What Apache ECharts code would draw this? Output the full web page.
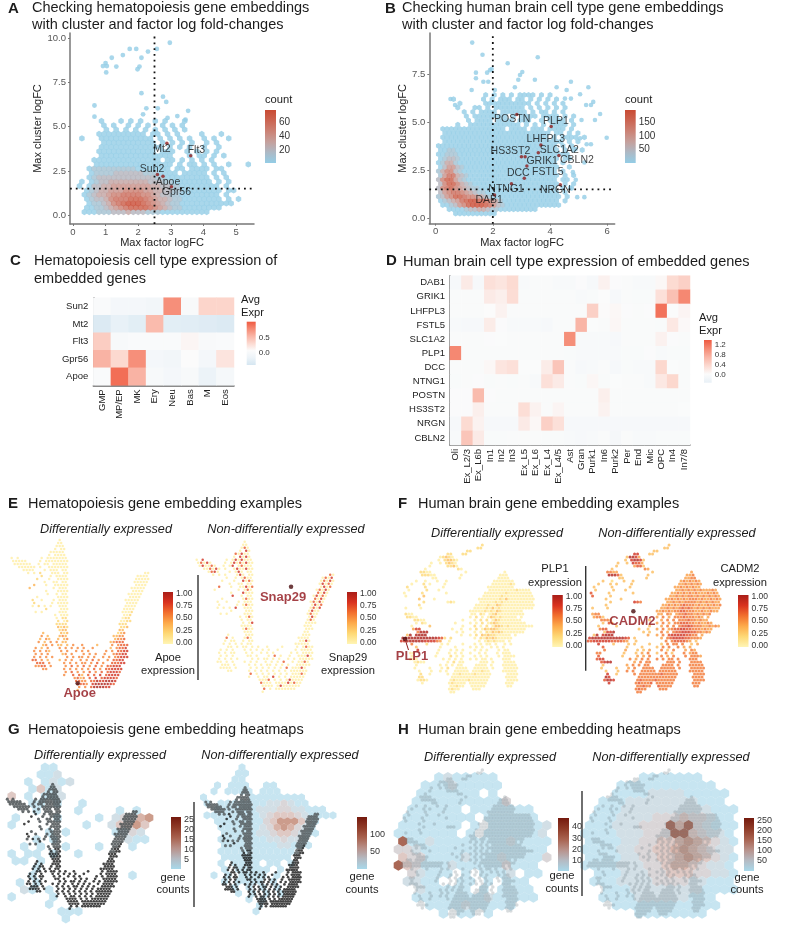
<!DOCTYPE html>
<html><head><meta charset="utf-8">
<script src="https://cdn.jsdelivr.net/npm/echarts@6/dist/echarts.min.js"></script>
<style>html,body{margin:0;padding:0;background:#fff}#c{width:800px;height:942px;filter:blur(.4px)}</style>
</head><body><div id="c"></div>
<script>
// ---------- A: hexbin rows (one char per bin, . = empty, 1..9 = count level)
const hexA = [
".11122233343332221111111111",
".1122345678888765432211111111",
"..122346789998765432211111111111",
".1233467778887654432211111111.1.1",
".1234456677776654332211111111.1",
".1234455566665544332211111111.11",
"1.133445555555544332211111111.1",
"1.1233444444443332211111111.1.1",
"..1233333333333322111111111.1.1",
"..122223333332221111.11111.1.1",
"..12222222221111111.11.1111.11",
"...1111111111111111.1.11.1.1..1...1",
"...11111111111111.11.1.1.1.1",
"....111111111111111...1.11.1.1",
"....111111111111.111..1.1.1.1",
"....1111111111111.1.1.1..1..1",
".....11111111111.1.1.1.1..1.1",
"1...11111111111.1.1.1.1..1.1..1",
"....1111111111.11.1.1....1...1",
".....1.1.1.1.1.1.1.1.1",
".....1.1..1.1.1..1.1.1",
"....1...1.1.1..1.1...1"];
const sparseA = [[2.97,9.75],[1.74,9.4],[1.94,9.4],[2.3,9.25],[2.57,9.4],[1.53,9.05],[1.19,8.9],[2.1,8.9],[1,8.6],[.92,8.43],[1.04,8.43],[1.33,8.4],[2.04,8.4],[1.98,8.25],[1.02,8.07],[2.1,6.9],[2.76,6.7],[2.86,6.4],[.66,6.2],[2.25,6.04],[2.6,6.04],[3.53,5.9],[.66,5.57],[2.15,5.7],[3.2,5.6],[2.9,5.5],[3.45,5.4]];
const genesA = [["Mt2",2.88,4.06],["Flt3",3.61,3.36],["Sun2",2.59,2.3],["Apoe",2.76,2.2],["Gpr56",3.02,1.6]];
const offsA = [[-5,5.7],[5.7,-5.7],[-5.3,-5],[5,5.7],[5,5.7]];
const ticksAx=[0,1,2,3,4,5], ticksAy=[0,2.5,5,7.5,10];
// ---------- B
const hexB = [
"....1111111111",
"..111123344322111111111",
".1123568999875321111111111111",
"1234578998875421111111111111.1",
"23568876654321111111111111111.1",
"3567765432211111111111111111.1",
"3678654322111111111111111111.1.1",
"3688643211111111111111111111.1.1",
"3688532111111111111111111111.11",
"2577432111111111111111111111.1.1",
"2466321111111111111111111111.1",
"1355321111111111111111111111..1",
"1244211111111111111111111111.1",
"1233211111111111111111111111.11",
"1122211111111111111111111111111",
"1122111111111111111111111111.1.1.1",
"1111111111111111111111111111.1.1",
".1111111111111111111111111111.1.1",
".1111111111111111111111111.1.1111.1",
".1111111111111111111111111.11.1.1",
".111111111111111.1111.111.1111.1",
"....1..111111111111.1.1.1.1111.1",
".......1.1111.1111.111..1.1111.1",
"......1.11111111.1.1111.1111.1.1",
"......1.1.1111.111111.1.11.1.1",
"....1...11.1.1111111.1.1.1.1.1",
".....1.....11111111111.1.1.1.1",
"...1......1.1.111.11.1.1.1.1",
"...........1.1.1.1.1111.1.1"];
const sparseB = [[1.28,9.13],[1.64,8.5],[3.57,8.37],[2.52,8.06],[1.9,7.7],[1.41,7.57],[1.8,7.57],[1.96,7.76],[3.03,7.6],[2.95,7.45],[1.41,7.28],[4.73,7.1],[3.47,7.2],[1.67,7.1],[1.84,7.1],[2.89,7.2],[5.34,6.81],[4.58,6.67],[4.23,6.81],[2.77,6.81],[1.26,6.67],[2.07,6.67],[5.05,6.45],[5.51,6.05],[5.26,5.89],[5.43,5.89],[.52,6.2],[.68,5.89],[4.73,6.22],[4.52,6.22],[5.75,5.42],[5.57,5.11],[5.1,5.11],[5.98,4.19],[5.28,3.85],[5.43,3.85],[5.05,4.16],[4.9,3.6],[5.2,2.9],[4.8,2.4],[4.95,1.1],[5.2,1.1],[4.7,1.6],[4.9,2]];
const genesB = [["POSTN",2.84,5.4],["PLP1",4.04,4.77],["LHFPL3",3.68,3.81],["SLC1A2",3.59,3.41],["HS3ST2",3.0,3.2],["GRIK1",3.13,3.2],["CBLN2",4.31,3.26],["FSTL5",3.19,2.72],["DCC",3.1,2.08],["NTNG1",2.65,1.79],["NRGN",4.36,1.75],["DAB1",2.06,1.21]];
const offsB = [[-4.7,5],[4.7,-5],[5,-5.7],[21,-2.7],[-11,-5.7],[17,4],[18,5],[21,5.7],[-6,-4.7],[-5.3,5.3],[-5,5.3],[-5.3,5.3]];
const ticksBx=[0,2,4,6], ticksBy=[0,2.5,5,7.5];
// ---------- C
const catsC=["GMP","MP/EP","MK","Ery","Neu","Bas","M","Eos"];
const genesC=["Sun2","Mt2","Flt3","Gpr56","Apoe"];
const matC=[
[.02,-.05,-.05,-.09,.75,.01,.33,.33],
[-.35,-.22,-.28,.5,-.28,-.3,-.32,-.35],
[.38,0,.02,.03,.03,.1,.01,.03],
[.55,.3,.75,-.05,-.08,.06,-.05,.22],
[.03,.92,.55,-.01,-.05,-.01,-.18,-.03]];
// ---------- D
const catsD=["Oli","Ex_L2/3","Ex_L6b","In1","In2","In3","Ex_L5","Ex_L6","Ex_L4","Ex_L4/5","Ast","Gran","Purk1","In6","Purk2","Per","End","Mic","OPC","In4","In7/8"];
const genesD=["DAB1","GRIK1","LHFPL3","FSTL5","SLC1A2","PLP1","DCC","NTNG1","POSTN","HS3ST2","NRGN","CBLN2"];
const matD=[
[-.06,.2,-.06,.3,.25,.35,-.04,0,0,-.04,-.04,.01,-.05,.13,.01,0,-.03,-.03,.07,.35,.45],
[0,0,0,.2,.15,.33,0,0,0,0,0,-.03,-.01,.03,-.05,0,-.01,-.01,.3,.6,1.05],
[0,0,0,.03,.12,0,0,0,0,0,0,0,.45,.04,.07,.01,0,.01,1.2,.02,.1],
[-.04,-.05,-.05,.18,.01,-.03,-.03,-.03,-.06,0,0,.7,.02,0,.08,0,0,0,-.01,.22,.06],
[0,0,0,.01,.02,0,0,0,0,0,1,-.04,-.04,-.03,-.05,0,0,0,.13,.01,0],
[1.05,0,0,0,0,0,0,0,0,0,-.01,-.04,-.04,-.03,-.04,-.01,-.01,.01,-.03,-.01,-.01],
[0,0,0,.07,.25,.3,.02,.02,.18,.55,0,-.06,-.03,0,-.05,-.01,-.04,-.04,.38,.02,0],
[-.01,0,.01,-.01,0,-.01,0,-.03,.3,.2,0,-.01,.08,-.01,.02,0,0,-.03,.22,.38,0],
[.01,.01,.65,.01,0,0,0,0,0,0,0,0,0,.15,0,0,0,0,0,0,0],
[.01,.01,.15,0,0,0,.32,.12,0,.1,0,0,0,.12,0,0,0,0,0,0,.02],
[-.05,.35,.12,-.05,-.05,-.06,.2,.07,.45,.3,-.06,-.06,-.05,-.05,-.06,-.05,-.05,-.05,-.05,-.05,-.05],
[-.03,.55,.2,-.01,-.01,0,0,0,-.01,-.01,-.04,-.06,-.04,0,-.08,0,-.03,-.03,-.01,-.01,-.01]];
// ---------- E: hematopoiesis embedding, density rows "left|right", level 1..9 = expression
const apoeRows=[
"................1","...............11","...............111","..............1.11",".............11111","............1.1111",
"1.1.......1.1111111","11111....1.11111111",".111111..1.11.11111","..111111.1..1111111","....1111...1.111.11",
".....1.1.2...111.11|.....................11","..........2..1.1111|...................1111","........2...1..1111|..................11111",
"...........1..11.11|..................11111",".......3...1..11111|..................1111","......3.......1.111|.................11111",
"...........1...1111|.................1111","............1..1.11|................11111","........1......1111|................1111",
".......2..1...1.111|...............11111",".......2.....1.1111|...............1111",".......1.2.1.1..111|...............1111",
"...........2....111|..............1111","........1.1.....111|..............1112","..............1.111|..............112",
"...............1.22|..............122","...............2.12|.............1122","...............2222|.............222",
"...............3232|.............223","................233|.............33","..........3.....323|............234",
"..........4.3...343|...........3344",".........3.43..3.34|...........3445",".........4.3.4.4.33|..........34555",
"..........34.4.33.3.4..|4....3....4.4555","........4.3.4...4.4.4.4|.4..4.....3.4556",".......4.4.43...4.4..4.|4.4.....4.4.5566",
"........4.4.4....34.4..|.4.4.4..4..45566",".......4.4.4.4....4.4.4|4.4.4..4.4.45666",".......55.4.3...3.4.4..|4.4.5.4..4.5566",
"........555.4....4.4.4.|44.4.5.4..55566","........4455.4....4.5.4|.5.4.5.4.55666","..........44.....4.4.4.|4.4.5.4.556666",
"..................4.5.4|.4.5.4.5.56665",".................4..5.5|3.5.5.6.56666",".....................45|34.5.6.566665",
".....................55|44.557667776","......................5|554.67777765","......................4|.4.5777766","......................3"];
const snapRows=[
"................1","...............11","...............151","..............1.61",".............51611","............1.6161",
"1.6.......1.1616111","15161....1.16151611",".161151..1.16.15111","..115161.1..1611611","....1561...1.161.11",
".....1.1.1...161.11|.....................51","..........1..1.1511|...................1516","........1...1..6151|..................15161",
"...........1..11.11|..................16151",".......5...1..11615|..................1615","......1.......1.151|.................15161",
"...........1...6111|.................5161","............6..1.11|................16151","........1......1511|................5161",
".......1..1...1.111|...............15161",".......1.....1.1511|...............1615",".......1.1.1.6..111|...............1516",
"...........1....111|..............1611","........1.1.....111|..............1511","..............1.151|..............161",
"...............1.11|..............151","...............1.16|.............1111","...............1111|.............111",
"...............1511|.............111","................111|.............11","..........1.....111|............111",
"..........5.1...151|...........1111",".........1.11..1.11|...........1161",".........1.1.1.1.11|..........11111",
"..........11.1.11.1.1..|1....1....1.1511","........1.1.1...1.1.1.1|.1..1.....1.1111",".......1.1.11...1.1..1.|1.1.....1.1.1111",
"........1.1.1....11.1..|.1.5.1..1..11161",".......1.1.1.1....1.1.1|1.1.1..1.1.11111",".......11.1.1...1.1.1..|1.1.1.5..1.1151",
"........111.1....1.1.1.|11.1.1.1..11111","........1111.1....1.1.1|.1.1.1.5.11161","..........11.....1.1.1.|1.1.1.1.111111",
"..................5.1.1|.1.1.1.1.11151",".................1..1.1|1.6.1.1.11111",".....................11|15.1.1.161111",
".....................51|11.111161511","......................1|111.16111111","......................5|.1.1111111","......................1"];
const geneApoe=[["Apoe",233,595]], geneSnap=[["Snap29",318,300]];
// ---------- F / H: human brain embedding rows
const cadm2Rows=[
"|....3","|..33","......................3|3","...............77...33",".............38874","............3.78873","..........3..3.7664",".........3.....4663",
"........3..........54","......5544...........3|...........4",".......88863........3.|..........445","..........33.......3..|.........4455",
".....3..2...3..3....|........4545454","...3...3.3....3.....|.......44545454","..3.....3.....3.....|......445454544",
"..3.....3...3.......|......44545454544454",".6.....3.......3....|.....4454545454445454",".6.....3............|....44545455454545454",
"......3....3........|...4454545455545445454",".......3.......765..|...445454555545454544","......3.............|..44545456555454454545",
".3....3.............|.44545456565454545444","....................|445454556655544544544",".455................|44.54.455655454545",
"..4553..............|4.5.4.5556555454.4","....5553............3|.4.5.5.5556554544",".....3.64.........3..|4.5.4.5566655454454",
"...3.....3..........3|.4.5.5.56676555445454","....566..........3..3|4.5.456677665554544",".....3778.........3.3|.5.4.5667776655454",
"..38.7888...........4|4.5.6777776655.4","78888888888876.3.....|.4.567777665554","66777777666654..3....|...5.5666654.3",
"...7....3....3.3....3|.3.5.55.5..3.4",".....6.......3....3..|3.5.5..5.4.4",".....5......4...3.3.4|.5.3.5...4.54",
"...55.......3...3.4.5|3..5.3...5.455","...6.......3....4.4.5|.5.4.5...5.5554","...677........5.4.5.5|5.5.55.5...555",
"....6788.......4.5.55|...555.5...5555",".....3.......4.5.5.55|..5555.5...55555","....3....3...4.5..5555|.55555.5...55555",
"......3...3..5.5..55555|.555555....55555","......7..3.....5.555555|5655555.....5555","......87.........555555|5555555.....5555",
".....6887.......5655556|555555......5555",".......7........565556.|555555......555","................55655..|65555.......55",
"................5655...|.555","................55"];
const plp1Rows=[
"|....2","|..22","......................2|2","...............22...22",".............12321","............1.23321","..........1..1.2321",".........1.....2231",
"........1..........21","......2211...........1|...........1",".......22211........1.|..........111","..........11.......1..|.........1111",
".....1..1...1..1....|........1111111","...1...2.1....1.....|.......11111121","..2.....2.....1.....|......111111111",
"..1.....2...1.......|......11111111121111",".1.....2.......1....|.....1111111211111111",".1.....3............|....11111121111111111",
"......3....1........|...1111111213111111111",".......2.......121..|...111112121111111111","......2.............|..11112113211111111111",
".1....1.............|.11112131211111111111","....................|111112121321111111",".211................|11.21.123111111111",
"..2211..............|1.2.1.1321211111.1","....2211............1|.1.2.2.1321111111",".....1.21.........1..|1.1.2.1232111111111",
"...1.....3..........1|.2.1.2.13321211111111","....477..........1..1|1.2.132332111111111",".....5888.........1.1|.1.1.2132321111111",
"..39.8999...........1|1.2.3232211111.1","999999999998762.2.....|.1.21323211111","77888888777754..1....|...1.1212111.1",
"...5....2....1.1....1|.1.1.11.1..1.1",".....3.......1....1..|1.1.1..1.1.1",".....7......1...1.1.1|.1.1.1...1.11",
"...11.......1...1.1.1|1..1.1...1.111","...1.......1....2.1.1|.1.1.1...1.1111","...111........1.1.1.1|1.1.11.1...111",
"....1211.......1.2.11|...111.1...1111",".....1.......1.1.1.11|..1111.1...11111","....1....1...1.2..1111|.11111.1...11111",
"......1...1..1.1..11111|.111211....11111","......2..1.....1.112111|1211111.....1111","......22.........111111|1111111.....1111",
".....1221.......1211112|111111......1111",".......1........121111.|111111......111","................11211..|11111.......11",
"................1211...|.111","................11"];
const genePlp=[["PLP1",15,462]], geneCadm=[["CADM2",140,379]];
// ---------- G: gene count hex rows
const hexG1=[
"....11","...112","..1.1212","..1412","4.1.112","..11.1..1","...1....1....1.1","1....1....1.23356",
"1........1..24464","....1.1.....1232","...1.1........211",".1.1..1...1...1","1.11.1..1","11.1","...1",
"..1...........1",".1.1",".21.1","1....1","....1","......111","......1"];
const hexG2=[
"......1",".....11",".....11","..1.111..11","..1.1111.111","1......11111111",".1.1111111223211","..1111112223322111",
".1111111123444321111","..111111134666421","...11111123565321","...11111223443211","...1111111223221","...1111111122111",
"...11111111111","...1111111111","...1.1111.11.1","...1.11111.1","..1.1.1111.1","...1.1111.1",".....1.1.1.1",".....1.1.1.1",".......1.1","........1","........1"];
// ---------- H
const hexH1=[
".......1.2","....1211111","...111211111","..1111111.1","..11111111113",".111111.1111111",".11111111.111111","1111111.1.1111112",
"1111111.1.1111112","81121111111121111","33211111111111111","43311112111211113","8431112111113111.",".32111.1.1112.11.",".2211..11.1.111",
"..211111.1.1111","..11111111211111","...1111211111",".....1.11.1",".......11"];
const hexH2=[
"........1.1","......1111111","....11111111111","...1111222211111","..11122222222111",".1112222222222111",".11122223334332111","111222333858321111",
"111122233388432211","1111223344565432111","1111223344565432211","1111223344565432111","111122233455432211",".111222334443322111",".1112222333322111",
"..111222222221111","..1111222222111","...111111111111","......11111111",".......111"];
// ---------- colour-bar ticks
const tickE=[0,.25,.5,.75,1], tickG1=[5,10,15,20,25], tickG2=[50,100], tickH1=[10,20,30,40], tickH2=[50,100,150,200,250];

const RED_BLUE=['#93cde6','#adb9c5','#c5a09c','#cb8275','#cb6552','#c94a33'];
const HEAT_C=['#d5e6f1','#ecf3f8','#fbfbfb','#fcd9d0','#f9b5a6','#f58a74','#ef5a41'];
const HEAT_D=['#e8f0f6','#fbfbfb','#fcd9d0','#f9b5a6','#f58a74','#ee5a41'];
const YLOR=['#fff5b5','#fed976','#fdab4b','#f2702e','#d9321f','#a91e18'];
const BROWN=['#a8d8ea','#b5bac2','#b8918a','#a8624f','#8f3b28','#74190d'];
const HEXBROWN=['#b9deee','#cfd3d8','#d8b8b0','#c38a76','#a4533a','#7c2210'];
const FF='"Liberation Sans",Arial,sans-serif', INK='#1c1c1c';
const HEX='path://M0,-1 L.866,-.5 L.866,.5 L0,1 L-.866,.5 L-.866,-.5 Z';
const LABEL_RED='#8f1218';

function rowPts(rows,x0,dx,y0,dy,oddShift,vmin,vmax,split){
  const out=[];
  rows.forEach((row,r)=>{
    let s=row;
    if(split){const p=row.split('|');s=p.length>1?p[0].padEnd(split,'.')+p[1]:p[0];}
    for(let c=0;c<s.length;c++){
      if(s[c]==='.')continue;
      const l=+s[c];
      out.push([x0+dx*c+((r%2)?oddShift:0),y0+dy*r,vmin+(l-1)/8*(vmax-vmin)]);
    }
  });
  return out;
}
const grids=[],xAxes=[],yAxes=[],series=[],vms=[];
const HIDE={show:false};
function addGrid(l,t,w,h,x,y){grids.push({left:l,top:t,width:w,height:h,containLabel:false});const i=grids.length-1;xAxes.push(Object.assign({gridIndex:i},x));yAxes.push(Object.assign({gridIndex:i},y));return i;}
function rawGrid(l,t,w,h,xr,yr){return addGrid(l,t,w,h,{type:'value',min:xr[0],max:xr[1],show:false},{type:'value',min:yr[0],max:yr[1],inverse:true,show:false});}
function addSeries(s,vm){series.push(Object.assign({animation:false,progressive:0},s));if(vm)vms.push({show:false,seriesIndex:series.length-1,dimension:2,min:vm.min,max:vm.max,inRange:{color:vm.colors}});}
function dots(g,pts,size,vm,extra){addSeries(Object.assign({type:'scatter',xAxisIndex:g,yAxisIndex:g,data:pts,symbol:'circle',symbolSize:size,silent:true},extra||{}),vm);}
function hexes(g,pts,w,vm){addSeries({type:'scatter',xAxisIndex:g,yAxisIndex:g,data:pts,symbol:HEX,symbolSize:[w,w*1.155],silent:true},vm);}
function colorbar(l,t,w,h,min,max,ticks,dec,colors,fs){
  const g=addGrid(l,t,w,h,{type:'value',min:0,max:1,show:false},{type:'value',min,max,position:'right',splitLine:HIDE,axisLine:HIDE,axisTick:HIDE,
    axisLabel:{customValues:ticks,margin:3,fontFamily:FF,fontSize:fs||9,color:'#333',formatter:v=>(+v).toFixed(dec)}});
  const stops=colors.map((c,i)=>({offset:i/(colors.length-1),color:c}));
  addSeries({type:'custom',xAxisIndex:g,yAxisIndex:g,data:[[0,min,max]],encode:{x:0,y:[1,2]},silent:true,
    renderItem:(p,api)=>{const a=api.coord([0,api.value(1)]),b=api.coord([1,api.value(2)]);
      return {type:'rect',shape:{x:a[0],y:b[1],width:b[0]-a[0],height:a[1]-b[1]},style:{fill:new echarts.graphic.LinearGradient(0,1,0,0,stops)}};}});
}
function scatterAxes(xmin,xmax,ymin,ymax,xt,yt,xn,yn,yGap){
  const ax={color:'#777',width:1.5}, lab={fontFamily:FF,fontSize:9.5,color:'#555'};
  const fmt=v=>String(v);
  return [{type:'value',min:xmin,max:xmax,name:xn,nameLocation:'middle',nameGap:10,nameTextStyle:{fontFamily:FF,fontSize:11,color:INK},splitLine:HIDE,
      axisLine:{onZero:false,lineStyle:ax},axisTick:{customValues:xt,length:2,lineStyle:{color:'#777'}},axisLabel:Object.assign({customValues:xt,margin:3,formatter:fmt},lab)},
    {type:'value',min:ymin,max:ymax,name:yn,nameLocation:'middle',nameGap:yGap,nameTextStyle:{fontFamily:FF,fontSize:11,color:INK},splitLine:HIDE,
      axisLine:{onZero:false,lineStyle:ax},axisTick:{customValues:yt,length:2,lineStyle:{color:'#777'}},axisLabel:Object.assign({customValues:yt,margin:4,formatter:v=>(+v).toFixed(1)},lab)}];
}
function refLines(g,vx,hy,xr,yr){
  [[[vx,yr[0]],[vx,yr[1]]],[[xr[0],hy],[xr[1],hy]]].forEach(d=>addSeries({type:'line',xAxisIndex:g,yAxisIndex:g,data:d,symbol:'none',silent:true,lineStyle:{color:'#111',width:1.8,type:[1.8,4]}}));
}
function genePoints(g,list,offs,color,lab,size){
  addSeries({type:'scatter',xAxisIndex:g,yAxisIndex:g,symbol:'circle',symbolSize:size,itemStyle:{color},silent:true,
    data:list.map((p,i)=>({name:p[0],value:[p[1],p[2]],label:{show:true,position:'inside',offset:offs[i],formatter:p[0],fontFamily:FF,textBorderWidth:0,textBorderColor:'transparent',...lab}}))});
}
// A
{ const xr=[-.09,5.55],yr=[-.5,10.3],[xa,ya]=scatterAxes(xr[0],xr[1],yr[0],yr[1],ticksAx,ticksAy,'Max factor logFC','Max cluster logFC',10);
  const g=addGrid(70,33,184,191,xa,ya);
  hexes(g,rowPts(hexA,.2,.15,.18,.245,.075,1,78),5.5,{min:1,max:78,colors:RED_BLUE});
  dots(g,sparseA.map(p=>[p[0],p[1],1]),4.8,{min:1,max:78,colors:RED_BLUE});
  refLines(g,2.5,1.5,xr,yr);
  genePoints(g,genesA,offsA,'#8f1d1d',{fontSize:10.5,color:'#111'},3.5);
  colorbar(265,110,11,53,1,78,[20,40,60],0,RED_BLUE,10);
}
// B
{ const xr=[-.22,6.26],yr=[-.28,9.63],[xa,ya]=scatterAxes(xr[0],xr[1],yr[0],yr[1],ticksBx,ticksBy,'Max factor logFC','Max cluster logFC',10);
  const g=addGrid(429.3,33,185.4,190.7,xa,ya);
  hexes(g,rowPts(hexB,.1,.15,.25,.22,.075,1,194),5,{min:1,max:194,colors:RED_BLUE});
  dots(g,sparseB.map(p=>[p[0],p[1],1]),4.6,{min:1,max:194,colors:RED_BLUE});
  refLines(g,2,1.5,xr,yr);
  genePoints(g,genesB,offsB,'#8f1d1d',{fontSize:10.5,color:'#111'},3.5);
  colorbar(625,110,10.7,53,1,194,[50,100,150],0,RED_BLUE,10);
}
// C, D heatmaps
function heat(l,t,w,h,cats,genes,mat,vm,fs){
  const ax={color:'#666',width:1.5};
  const g=addGrid(l,t,w,h,
    {type:'category',data:cats,position:'bottom',axisLine:{onZero:false,lineStyle:ax},axisTick:HIDE,splitLine:HIDE,axisLabel:{interval:0,rotate:90,margin:4,fontFamily:FF,fontSize:fs,color:'#222'}},
    {type:'category',data:genes,inverse:true,axisLine:{onZero:false,lineStyle:ax},axisTick:HIDE,splitLine:HIDE,axisLabel:{interval:0,margin:5,fontFamily:FF,fontSize:fs,color:'#222'}});
  const d=[];mat.forEach((row,y)=>row.forEach((v,x)=>d.push([x,y,v])));
  addSeries({type:'heatmap',xAxisIndex:g,yAxisIndex:g,data:d,silent:true},vm);
}
heat(93.3,297.7,140.7,87.6,catsC,genesC,matC,{min:-.42,max:1.02,colors:HEAT_C},9.5);
colorbar(246.7,321.7,9,43.3,-.42,1.02,[0,.5],1,HEAT_C,8);
heat(450,275.7,240,169.3,catsD,genesD,matD,{min:-.3,max:1.37,colors:HEAT_D},9.5);
colorbar(704,340,7.7,42.7,-.3,1.37,[0,.4,.8,1.2],1,HEAT_D,8);
// E
const EX=[35,449],EY=[165,624];
function embedE(l,t,rows,gene,off,cbL,cbT){
  const g=rawGrid(l,t,138,153,EX,EY);
  dots(g,rowPts(rows,35,9,165,9,4.5,.06,1.3,23),2.5,{min:0,max:1,colors:YLOR});
  genePoints(g,gene,[off],'#4a0d0f',{fontSize:13,fontWeight:'bold',color:LABEL_RED},4.5);
  colorbar(cbL,cbT,10,52,-.03,1.03,tickE,2,YLOR,8.5);
}
embedE(11.7,540,apoeRows,geneApoe,[2,10.5],163,592);
embedE(196.7,541.7,snapRows,geneSnap,[-8,11],347,592);
// F
const FX=[-12,441],FY=[180,630];
function embedF(l,t,rows,gene,off,cbL){
  const g=rawGrid(l,t,151,150,FX,FY);
  dots(g,rowPts(rows,4,9,180,9,4.5,.06,1.1,23),3,{min:0,max:1,colors:YLOR});
  genePoints(g,gene,[off],'#4a0d0f',{fontSize:13,fontWeight:'bold',color:LABEL_RED},4.5);
  colorbar(cbL,595,10.5,52,-.03,1.03,tickE,2,YLOR,8.5);
}
embedF(396,545,plp1Rows,genePlp,[7,17],552.3);
embedF(582.7,545,cadm2Rows,geneCadm,[-1,10],738);
// G
function embedG(hl,ht,hw,hh,xr,yr,hexRows,x0,dx,y0,dy,w,vm,dl,dt,dw,dh,inks,cb){
  const g=rawGrid(hl,ht,hw,hh,xr,yr);
  hexes(g,rowPts(hexRows,x0,dx,y0,dy,dx/2,vm.min,vm.max),w,vm);
  const g2=rawGrid(dl,dt,dw,dh,EX,EY);
  const pts=rowPts(apoeRows,35,9,165,9,4.5,1,9,23);
  dots(g2,pts.filter(p=>p[2]===1).map(p=>[p[0],p[1]]),3.1,null,{itemStyle:{color:inks[0],opacity:.85}});
  dots(g2,pts.filter(p=>p[2]>1).map(p=>[p[0],p[1]]),2.7,null,{itemStyle:{color:inks[1]}});
  colorbar(cb[0],817,10,52,vm.min,vm.max,cb[1],0,BROWN,9);
}
embedG(0,710,200,232,[0,600],[0,696],hexG1,35,25,172,21.6,8.4,{min:.6,max:26,colors:HEXBROWN},7.3,784.2,130.4,127,['#4a5052','#141414'],[171,tickG1]);
embedG(200,710,180,232,[600,1140],[0,696],hexG2,600,21,172,18,7,{min:1,max:150,colors:HEXBROWN},205.8,787.5,113,123.6,['#565d5f','#161616'],[357,tickG2]);
// H
function embedH(l,rows,vm,cb,ink){
  const g=rawGrid(l,770,151,150,FX,FY);
  hexes(g,rowPts(rows,-5,27,178,24,13.5,vm.min,vm.max),9.3,vm);
  dots(g,rowPts(cadm2Rows,4,9,180,9,4.5,0,1,23).map(p=>[p[0],p[1]]),3.5,null,{itemStyle:{color:ink,opacity:.28}});
  colorbar(cb[0],818,cb[1],53,vm.min,vm.max,cb[2],0,BROWN,9);
}
embedH(396,hexH1,{min:.5,max:48,colors:HEXBROWN},[558,11,tickH1],'#6f7f86');
embedH(582.7,hexH2,{min:1,max:260,colors:HEXBROWN},[744,10,tickH2],'#6f7f86');
// ---------- text
const T=(text,x,y,font,extra)=>({type:'text',z:50,silent:true,style:Object.assign({text,x,y,font,fill:INK,textVerticalAlign:'middle'},extra||{})});
const F_T=`14.5px ${FF}`,F_L=`bold 15px ${FF}`,F_I=`italic 12.7px ${FF}`,F_S=`11.2px ${FF}`;
const C={textAlign:'center'};
const texts=[
T('A',8,9,F_L),T('B',385,9,F_L),T('C',10,261,F_L),T('D',386,261,F_L),T('E',8,504,F_L),T('F',398,504,F_L),T('G',8,730,F_L),T('H',398,730,F_L),
T('Checking hematopoiesis gene embeddings',32,8,F_T),T('with cluster and factor log fold-changes',32,25,F_T),
T('Checking human brain cell type gene embeddings',402,8,F_T),T('with cluster and factor log fold-changes',402,25,F_T),
T('Hematopoiesis cell type expression of',34,261,F_T),T('embedded genes',34,279,F_T),
T('Human brain cell type expression of embedded genes',403,262,F_T),
T('Hematopoiesis gene embedding examples',28,504,F_T),T('Human brain gene embedding examples',418,504,F_T),
T('Hematopoiesis gene embedding heatmaps',28,730,F_T),T('Human brain gene embedding heatmaps',418,730,F_T),
T('Differentially expressed',106,529,F_I,C),T('Non-differentially expressed',286,529,F_I,C),
T('Differentially expressed',497,533,F_I,C),T('Non-differentially expressed',677,533,F_I,C),
T('Differentially expressed',100,755,F_I,C),T('Non-differentially expressed',280,755,F_I,C),
T('Differentially expressed',490,757,F_I,C),T('Non-differentially expressed',671,757,F_I,C),
T('count',265,100,F_S),T('count',625,100,F_S),
T('Avg',241,300,F_S),T('Expr',241,313,F_S),T('Avg',699,318,F_S),T('Expr',699,331,F_S),
T('Apoe',168,658,F_S,C),T('expression',168,671,F_S,C),T('Snap29',348,658,F_S,C),T('expression',348,671,F_S,C),
T('PLP1',555,569,F_S,C),T('expression',555,582.5,F_S,C),T('CADM2',740,569,F_S,C),T('expression',740,582.5,F_S,C),
T('gene',173,878,F_S,C),T('counts',173,890,F_S,C),T('gene',362,877,F_S,C),T('counts',362,890,F_S,C),
T('gene',562,876,F_S,C),T('counts',562,889,F_S,C),T('gene',747,878,F_S,C),T('counts',747,890,F_S,C)];
const dividers=[[198,575,680],[585.7,566,670.7],[194,802,907],[582,791,896]].map(d=>({type:'line',z:40,silent:true,shape:{x1:d[0],y1:d[1],x2:d[0],y2:d[2]},style:{stroke:'#333',lineWidth:1.4}}));
dividers.push({type:'line',z:40,silent:true,shape:{x1:405,y1:639,x2:408.5,y2:650},style:{stroke:'#8f1d1d',lineWidth:1}});
const chart=echarts.init(document.getElementById('c'),null,{renderer:'canvas'});
chart.setOption({backgroundColor:'#fff',animation:false,grid:grids,xAxis:xAxes,yAxis:yAxes,visualMap:vms,series,graphic:{elements:texts.concat(dividers)}});
</script></body></html>
